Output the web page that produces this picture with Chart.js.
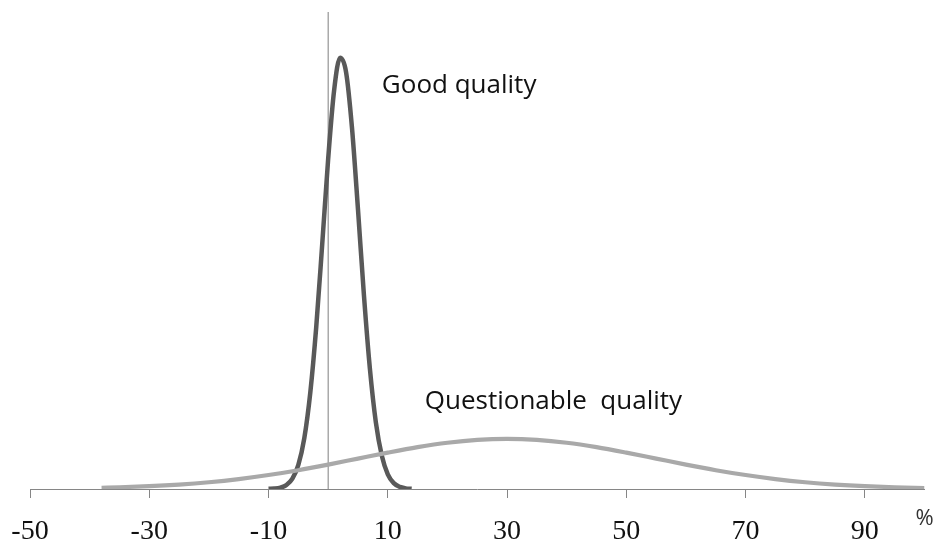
<!DOCTYPE html>
<html>
<head>
<meta charset="utf-8">
<script src="https://cdn.jsdelivr.net/npm/chart.js@4"></script>
<style>
  html, body { margin: 0; padding: 0; background: #ffffff; }
  #wrap { width: 939px; height: 546px; position: relative; }
</style>
</head>
<body>
<div id="wrap"><canvas id="c"></canvas></div>
<script>
// ---- data ----
const goodX = [-10,-9,-8,-7,-6,-5,-4,-3,-2,-1,0,1,2,3,4,5,6,7,8,9,10,11,12,13,14];
const goodY = [0.03,0.09,0.31,0.91,2.4,5.6,11.8,22.3,37.5,56.6,76.4,92.3,99.8,96.5,83.5,64.7,44.8,27.8,15.4,7.7,3.4,1.35,0.48,0.15,0.04];

const questX = [-38,-35,-30,-25,-20,-15,-10,-5,0,5,10,15,20,25,30,35,40,45,50,55,60,65,70,75,80,85,90,95,100];
const questY = [0.29,0.40,0.65,1.03,1.57,2.30,3.23,4.35,5.65,7.04,8.42,9.69,10.71,11.37,11.6,11.37,10.71,9.69,8.42,7.04,5.65,4.35,3.23,2.30,1.57,1.03,0.65,0.40,0.23];

const refLineX = [0, 0];
const refLineY = [0, 110.4];

const xTicks = [-50,-30,-10,10,30,50,70,90];
const seriesNames = ['Questionable quality', 'Good quality'];
const axisUnit = '%';

const toPts = (xs, ys) => xs.map((x, i) => ({ x: x, y: ys[i] }));

const textPlugin = {
  id: 'labels',
  afterDatasetsDraw(chart, args, opts) {
    const ctx = chart.ctx;
    const xs = chart.scales.x, ys = chart.scales.y;
    ctx.save();
    opts.items.forEach(it => {
      ctx.font = it.font;
      ctx.fillStyle = it.color;
      ctx.textAlign = it.align;
      ctx.textBaseline = 'alphabetic';
      ctx.fillText(it.text, xs.getPixelForValue(it.x), ys.getPixelForValue(it.y));
    });
    ctx.restore();
  }
};

new Chart(document.getElementById('c'), {
  type: 'line',
  data: {
    datasets: [
      {
        label: seriesNames[0],
        data: toPts(questX, questY),
        borderColor: '#a9a9a9',
        borderWidth: 4.2,
        pointRadius: 0,
        cubicInterpolationMode: 'monotone',
        fill: false
      },
      {
        label: seriesNames[1],
        data: toPts(goodX, goodY),
        borderColor: '#595959',
        borderWidth: 4.5,
        pointRadius: 0,
        cubicInterpolationMode: 'monotone',
        fill: false
      },
      {
        label: 'ref',
        data: toPts(refLineX, refLineY),
        borderColor: '#7f7f7f',
        borderWidth: 1,
        pointRadius: 0,
        fill: false
      }
    ]
  },
  options: {
    responsive: true,
    maintainAspectRatio: false,
    animation: false,
    layout: { padding: { left: 30, right: 14.5, top: 12, bottom: -20 } },
    plugins: {
      legend: { display: false },
      tooltip: { enabled: false },
      labels: {
        items: [
          { text: 'Good quality', x: 9, y: 91.7, font: '26px "Open Sans"', color: '#111111', align: 'left' },
          { text: 'Questionable  quality', x: 16.2, y: 18.5, font: '26px "Open Sans"', color: '#111111', align: 'left' },
          { text: axisUnit, x: 100, y: -8.3, font: '22px "Open Sans"', color: '#333333', align: 'center' }
        ]
      }
    },
    scales: {
      x: {
        type: 'linear',
        min: -50,
        max: 100,
        afterBuildTicks: (scale) => { scale.ticks = xTicks.map(v => ({ value: v })); },
        afterFit: (scale) => { scale.paddingLeft = 0; scale.paddingRight = 0; },
        grid: { drawOnChartArea: false, drawTicks: true, tickLength: 9, color: '#868686', lineWidth: 1 },
        border: { display: true, color: '#868686', width: 1 },
        ticks: {
          autoSkip: false,
          maxRotation: 0,
          padding: 20,
          color: '#111111',
          font: { family: '"Liberation Serif"', size: 28, lineHeight: 1.0 }
        }
      },
      y: {
        type: 'linear',
        display: false,
        min: 0,
        max: 110.4
      }
    }
  },
  plugins: [textPlugin]
});
</script>
</body>
</html>
